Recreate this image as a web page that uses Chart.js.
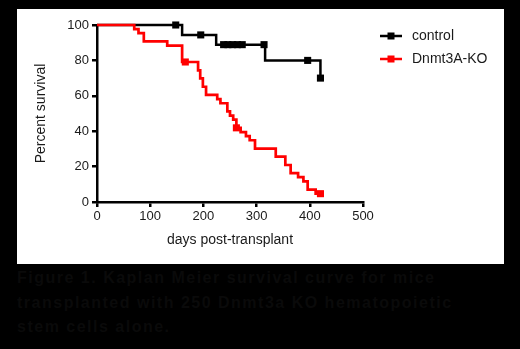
<!DOCTYPE html>
<html>
<head>
<meta charset="utf-8">
<script src="https://cdn.jsdelivr.net/npm/chart.js@4.4.0/dist/chart.umd.min.js"></script>
<style>
  html, body { margin: 0; padding: 0; background: #000; }
  body { width: 520px; height: 349px; position: relative; overflow: hidden; font-family: "Liberation Sans", Arial, sans-serif; }
  #panel { position: absolute; left: 17px; top: 9px; width: 487px; height: 255px; background: #fff; }
  #caption { position: absolute; left: 17px; top: 266px; width: 500px; white-space: nowrap; color: #0a0a0a; font-weight: bold; font-size: 16px; line-height: 24.5px; letter-spacing: 1.5px; }
</style>
</head>
<body>
<div id="panel"><canvas id="km" width="487" height="255"></canvas></div>
<div id="caption">Figure 1. Kaplan Meier survival curve for mice<br>transplanted with 250 Dnmt3a KO hematopoietic<br>stem cells alone.</div>
<script>
// Survival steps (day, percent)
const controlDays = [0, 160, 224, 316, 420];
const controlSurv = [100, 94.4, 88.9, 80, 70];
const controlCensorDays = [148, 195, 238, 246, 255, 264, 273, 314, 396, 420];
const controlCensorSurv = [100, 94.4, 88.9, 88.9, 88.9, 88.9, 88.9, 88.9, 80, 70];

const koDays = [0, 70, 78, 88, 132, 160, 190, 194, 199, 205, 226, 232, 245, 250, 256, 262, 270, 280, 287, 297, 336, 354, 364, 378, 388, 396, 411, 420];
const koSurv = [100, 97.7, 95.4, 90.7, 88.4, 79.1, 74.4, 69.8, 65.1, 60.5, 58.1, 55.8, 51.2, 48.8, 46.5, 41.9, 39.5, 37.2, 34.9, 30.2, 25.6, 20.9, 16.3, 14.0, 11.6, 7.0, 4.7, 4.7];
const koCensorDays = [166, 262, 420];
const koCensorSurv = [79.1, 41.9, 4.7];

const xTicks = [0, 100, 200, 300, 400, 500];
const yTicks = [0, 20, 40, 60, 80, 100];
const seriesNames = ['control', 'Dnmt3A-KO'];
const seriesColors = ['#000000', '#ff0000'];

const toXY = (xs, ys) => xs.map((x, i) => ({ x: x, y: ys[i] }));

// legend: short line with a square in the middle, like the Prism style
const legendPlugin = {
    id: 'kmLegend',
    afterDraw(chart) {
        const ctx = chart.ctx;
        ctx.save();
        seriesNames.forEach((name, i) => {
            const y = 27 + i * 23;
            ctx.strokeStyle = seriesColors[i];
            ctx.fillStyle = seriesColors[i];
            ctx.lineWidth = 2.5;
            ctx.beginPath(); ctx.moveTo(363, y); ctx.lineTo(385, y); ctx.stroke();
            ctx.fillRect(370.5, y - 3.5, 7, 7);
            ctx.fillStyle = '#1a1a1a';
            ctx.font = '14px "Liberation Sans", Arial, sans-serif';
            ctx.textBaseline = 'middle';
            ctx.fillText(name, 395, y);
        });
        ctx.restore();
    }
};

Chart.defaults.font.family = '"Liberation Sans", Arial, sans-serif';
Chart.defaults.color = '#1a1a1a';

new Chart(document.getElementById('km'), {
    type: 'scatter',
    data: {
        datasets: [
            { label: seriesNames[0], data: toXY(controlDays, controlSurv), showLine: true, stepped: true, borderColor: seriesColors[0], borderWidth: 2.5, pointRadius: 0, clip: false, order: 2 },
            { label: seriesNames[1], data: toXY(koDays, koSurv), showLine: true, stepped: true, borderColor: seriesColors[1], borderWidth: 2.7, pointRadius: 0, clip: false, order: 1 },
            { label: 'control censored', data: toXY(controlCensorDays, controlCensorSurv), showLine: false, pointStyle: 'rect', pointRadius: 5, backgroundColor: seriesColors[0], borderWidth: 0, clip: false, order: 2 },
            { label: 'KO censored', data: toXY(koCensorDays, koCensorSurv), showLine: false, pointStyle: 'rect', pointRadius: 5, backgroundColor: seriesColors[1], borderWidth: 0, clip: false, order: 0 }
        ]
    },
    options: {
        responsive: false,
        animation: false,
        devicePixelRatio: 1,
        layout: { padding: { left: 0, top: 16, right: 141, bottom: 0 } },
        plugins: { legend: { display: false }, tooltip: { enabled: false } },
        scales: {
            x: {
                type: 'linear', min: 0, max: 500,
                afterFit: s => { s.height = 62; },
                afterBuildTicks: s => { s.ticks = xTicks.map(v => ({ value: v })); },
                border: { color: '#000', width: 2.5 },
                grid: { drawOnChartArea: false, color: '#000', lineWidth: 2.5, tickLength: 5 },
                ticks: { font: { size: 13 }, padding: 2, maxRotation: 0 },
                title: { display: true, text: 'days post-transplant', font: { size: 14 }, padding: { top: 0, bottom: 15 } }
            },
            y: {
                type: 'linear', min: 0, max: 100,
                afterFit: s => { s.width = 80; },
                afterBuildTicks: s => { s.ticks = yTicks.map(v => ({ value: v })); },
                border: { color: '#000', width: 2.5 },
                grid: { drawOnChartArea: false, color: '#000', lineWidth: 2.5, tickLength: 5 },
                ticks: { font: { size: 13 }, padding: 3 },
                title: { display: true, text: 'Percent survival', font: { size: 14 }, padding: { top: 16, bottom: 0 } }
            }
        }
    },
    plugins: [legendPlugin]
});
</script>
</body>
</html>
